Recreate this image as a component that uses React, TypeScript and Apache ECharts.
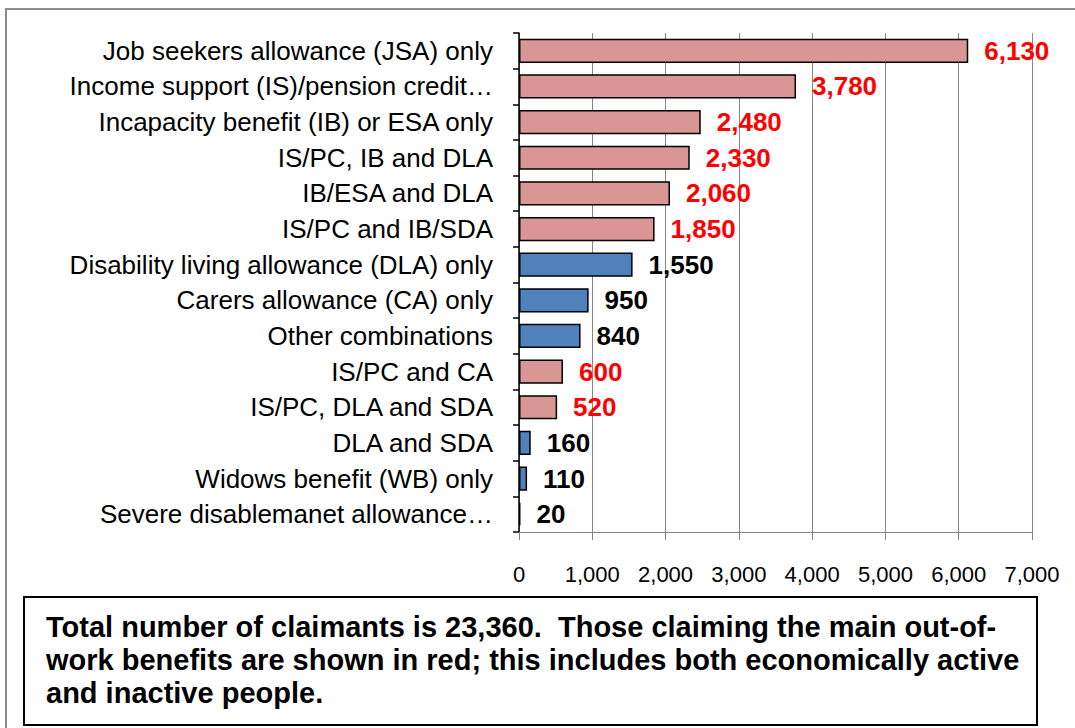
import React, { useEffect, useRef } from "react";
import * as echarts from "echarts";

const categories: string[] = [
  "Job seekers allowance (JSA) only",
  "Income support (IS)/pension credit…",
  "Incapacity benefit (IB) or ESA only",
  "IS/PC, IB and DLA",
  "IB/ESA and DLA",
  "IS/PC and IB/SDA",
  "Disability living allowance (DLA) only",
  "Carers allowance (CA) only",
  "Other combinations",
  "IS/PC and CA",
  "IS/PC, DLA and SDA",
  "DLA and SDA",
  "Widows benefit (WB) only",
  "Severe disablemanet allowance…",
];
const claimants: number[] = [6130, 3780, 2480, 2330, 2060, 1850, 1550, 950, 840, 600, 520, 160, 110, 20];
const mainOutOfWork: boolean[] = [true, true, true, true, true, true, false, false, false, true, true, false, false, false];
const xTicks: number[] = [0, 1000, 2000, 3000, 4000, 5000, 6000, 7000];
const noteLines: string[] = [
  "Total number of claimants is 23,360.  Those claiming the main out-of-",
  "work benefits are shown in red; this includes both economically active",
  "and inactive people.",
];

const RED_FILL = "#D99694";
const BLUE_FILL = "#4F81BD";
const FONT = "'Liberation Sans', Arial, sans-serif";

export default function App() {
  const ref = useRef<HTMLDivElement>(null);
  useEffect(() => {
    if (!ref.current) return;
    const chart = echarts.init(ref.current, null, { renderer: "svg" });
    const data = claimants.map((v, i) => ({
      value: v,
      itemStyle: { color: mainOutOfWork[i] ? RED_FILL : BLUE_FILL },
      label: { color: mainOutOfWork[i] ? "#FF0000" : "#000000" },
    }));
    chart.setOption({
      animation: false,
      backgroundColor: "#ffffff",
      textStyle: { fontFamily: FONT },
      grid: { left: 519, right: 43, top: 33, bottom: 196, containLabel: false },
      xAxis: {
        type: "value",
        min: xTicks[0],
        max: xTicks[xTicks.length - 1],
        interval: 1000,
        axisLine: { show: true, lineStyle: { color: "#868686", width: 1 } },
        axisTick: { show: true, length: 8, lineStyle: { color: "#868686" } },
        splitLine: { show: true, lineStyle: { color: "#868686", width: 1 } },
        axisLabel: {
          color: "#000",
          fontSize: 22,
          fontFamily: FONT,
          margin: 31,
          formatter: (v: number) => v.toLocaleString("en-US"),
        },
      },
      yAxis: {
        type: "category",
        data: categories,
        inverse: true,
        axisLine: { show: true, lineStyle: { color: "#000", width: 1.5 } },
        axisTick: { show: true, length: 6, lineStyle: { color: "#000", width: 1.5 } },
        axisLabel: { color: "#000", fontSize: 26, fontFamily: FONT, margin: 26 },
        splitLine: { show: false },
      },
      series: [
        {
          type: "bar",
          data,
          barCategoryGap: "32%",
          itemStyle: { borderColor: "#000", borderWidth: 1.5 },
          label: {
            show: true,
            position: "right",
            distance: 16,
            fontSize: 26,
            fontWeight: "bold",
            fontFamily: FONT,
            formatter: (p: any) => Number(p.value).toLocaleString("en-US"),
          },
        },
      ],
      graphic: [
        {
          type: "rect",
          shape: { x: 6, y: 9, width: 1200, height: 800 },
          style: { fill: "none", stroke: "#8c8c8c", lineWidth: 2 },
          silent: true,
        },
        {
          type: "rect",
          shape: { x: 24, y: 597, width: 1013, height: 128 },
          style: { fill: "#fff", stroke: "#000", lineWidth: 2 },
          silent: true,
        },
        ...noteLines.map((t, i) => ({
          type: "text",
          x: 46,
          y: 627 + i * 33,
          style: {
            text: t,
            fill: "#000",
            font: `bold 29px ${FONT}`,
            textVerticalAlign: "middle",
          },
          silent: true,
        })),
      ],
    });
    return () => chart.dispose();
  }, []);
  return (
    <div
      ref={ref}
      style={{ position: "fixed", left: 0, top: 0, width: 1075, height: 728 }}
    />
  );
}
